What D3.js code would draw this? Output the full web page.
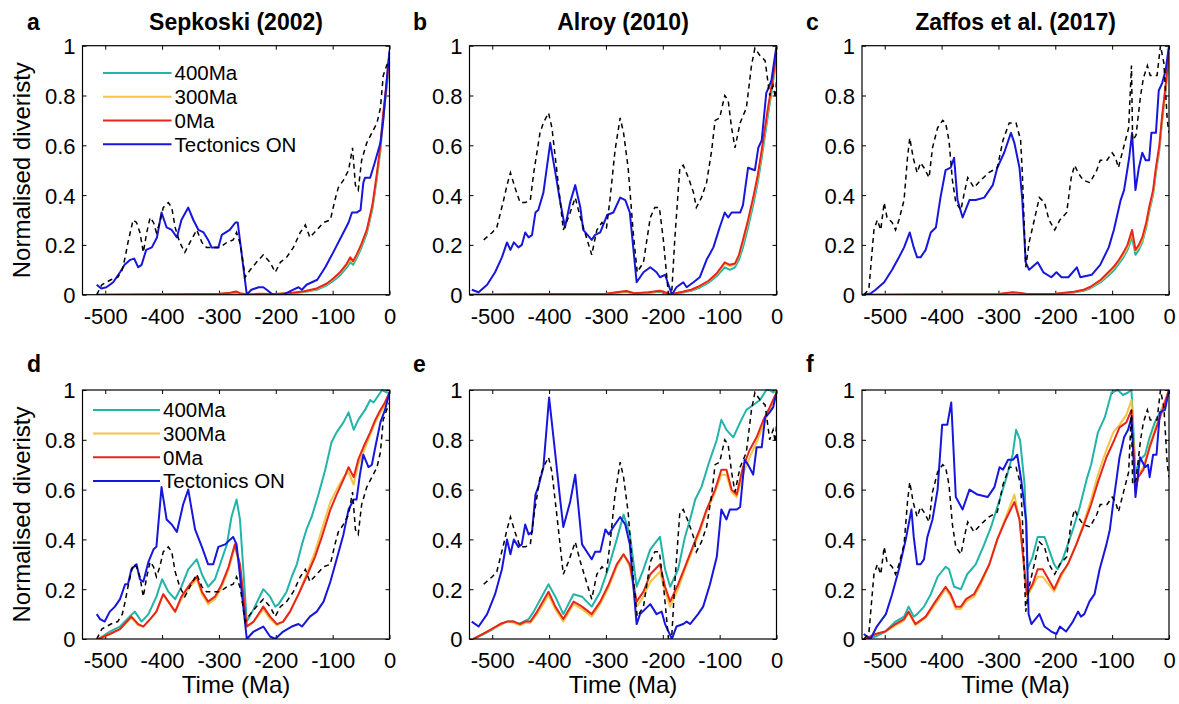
<!DOCTYPE html>
<html><head><meta charset="utf-8">
<script src="https://cdn.jsdelivr.net/npm/d3@7"></script>
<style>body{margin:0;background:#fff}svg{font-family:"Liberation Sans",Arial,Helvetica,sans-serif}</style>
</head><body><svg id="c" width="1179" height="704"></svg>
<script>
// ---------- labels ----------
const xTicks=[-500,-400,-300,-200,-100,0];
const xTickLabels=["-500","-400","-300","-200","-100","0"];
const yTicks=[0,0.2,0.4,0.6,0.8,1];
const yTickLabels=["0","0.2","0.4","0.6","0.8","1"];
const legendLabels=["400Ma","300Ma","0Ma","Tectonics ON"];
const titles=["Sepkoski (2002)","Alroy (2010)","Zaffos et al. (2017)"];
const letters=["a","b","c","d","e","f"];
const yLabel="Normalised diveristy";
const xLabel="Time (Ma)";

// ---------- observed (dashed) series: [Ma, value] ----------
const sepkoskiObs=[[-515,0],[-506,0.04],[-490,0.06],[-478,0.07],[-470,0.1],[-465,0.15],[-460,0.21],[-451,0.3],[-445,0.29],[-439,0.25],[-433,0.17],[-427,0.25],[-421,0.31],[-415,0.29],[-410,0.25],[-404,0.29],[-398,0.35],[-389,0.37],[-383,0.35],[-377,0.27],[-369,0.21],[-360,0.17],[-351,0.21],[-339,0.26],[-330,0.21],[-322,0.19],[-310,0.19],[-298,0.19],[-286,0.21],[-275,0.22],[-269,0.25],[-262,0.2],[-254,0.07],[-245,0.1],[-234,0.13],[-222,0.16],[-210,0.13],[-201,0.09],[-192,0.13],[-181,0.15],[-169,0.19],[-157,0.25],[-148,0.28],[-140,0.23],[-128,0.26],[-116,0.29],[-104,0.3],[-96,0.38],[-90,0.43],[-81,0.46],[-72,0.5],[-65,0.59],[-60,0.44],[-55,0.42],[-49,0.54],[-40,0.61],[-31,0.65],[-22,0.69],[-16,0.75],[-11,0.88],[-5,0.92],[0,0.95]];
const alroyObs=[[-515,0.22],[-500,0.25],[-492,0.27],[-480,0.38],[-474,0.44],[-468,0.49],[-460,0.43],[-451,0.37],[-442,0.37],[-433,0.38],[-427,0.49],[-416,0.65],[-410,0.69],[-401,0.73],[-395,0.67],[-386,0.49],[-375,0.26],[-366,0.31],[-354,0.39],[-345,0.31],[-333,0.22],[-325,0.16],[-316,0.26],[-307,0.29],[-299,0.27],[-293,0.38],[-284,0.58],[-275,0.71],[-269,0.65],[-261,0.51],[-252,0.25],[-245,0.09],[-234,0.13],[-222,0.31],[-214,0.35],[-206,0.35],[-199,0.22],[-190,0],[-184,0.02],[-179,0.22],[-170,0.51],[-164,0.52],[-155,0.47],[-146,0.41],[-141,0.35],[-132,0.39],[-123,0.45],[-114,0.58],[-108,0.7],[-100,0.71],[-91,0.8],[-85,0.78],[-79,0.67],[-73,0.59],[-64,0.69],[-53,0.75],[-44,0.92],[-38,0.99],[-29,0.96],[-20,0.94],[-12,0.8],[-6,0.84],[-2,0.79],[0,0.86]];
const zaffosObs=[[-537,0],[-528,0.02],[-519,0.26],[-513,0.3],[-507,0.26],[-501,0.37],[-496,0.31],[-487,0.29],[-481,0.26],[-475,0.3],[-466,0.38],[-460,0.55],[-456,0.63],[-450,0.55],[-443,0.49],[-437,0.53],[-431,0.51],[-422,0.47],[-416,0.59],[-407,0.67],[-398,0.7],[-393,0.69],[-387,0.62],[-381,0.46],[-375,0.37],[-366,0.34],[-360,0.41],[-354,0.47],[-343,0.43],[-331,0.46],[-317,0.49],[-302,0.51],[-292,0.62],[-281,0.69],[-269,0.69],[-261,0.62],[-258,0.49],[-252,0.11],[-246,0.21],[-237,0.3],[-228,0.39],[-219,0.37],[-211,0.3],[-201,0.26],[-192,0.3],[-180,0.33],[-172,0.47],[-166,0.52],[-160,0.49],[-151,0.46],[-139,0.45],[-127,0.5],[-121,0.54],[-109,0.54],[-100,0.57],[-94,0.55],[-89,0.51],[-80,0.59],[-71,0.67],[-66,0.92],[-64,0.62],[-58,0.64],[-50,0.8],[-45,0.87],[-38,0.92],[-33,0.88],[-21,0.88],[-15,1.0],[-9,0.93],[-3,0.7],[0,0.65]];

// ---------- panel a (Sepkoski, top) ----------
const a400=[[-515,0],[-400,0.001],[-300,0.002],[-280,0.005],[-270,0.009],[-263,0.004],[-250,0],[-200,0.002],[-170,0.006],[-150,0.011],[-128,0.02],[-110,0.038],[-99,0.055],[-87,0.078],[-75,0.11],[-69,0.13],[-64,0.12],[-58,0.145],[-50,0.185],[-40,0.245],[-30,0.345],[-22,0.47],[-16,0.58],[-11,0.71],[-5,0.83],[0,0.94]];
const a300=[[-515,0],[-400,0.002],[-300,0.003],[-280,0.007],[-270,0.011],[-263,0.005],[-250,0.001],[-200,0.003],[-170,0.007],[-150,0.013],[-128,0.023],[-110,0.043],[-99,0.062],[-87,0.087],[-75,0.12],[-69,0.142],[-64,0.13],[-58,0.155],[-50,0.195],[-40,0.255],[-30,0.355],[-22,0.48],[-16,0.59],[-11,0.72],[-5,0.84],[0,0.96]];
const a0=[[-515,0],[-400,0.002],[-300,0.004],[-280,0.008],[-270,0.013],[-263,0.006],[-250,0.001],[-230,0.004],[-200,0.003],[-170,0.008],[-150,0.014],[-128,0.025],[-110,0.045],[-99,0.065],[-87,0.09],[-75,0.125],[-69,0.15],[-64,0.135],[-58,0.16],[-50,0.2],[-40,0.26],[-30,0.36],[-22,0.49],[-16,0.6],[-11,0.73],[-5,0.85],[0,0.97]];
const aTec=[[-515,0.04],[-507,0.025],[-498,0.03],[-486,0.05],[-474,0.09],[-466,0.12],[-456,0.14],[-449,0.145],[-442,0.11],[-436,0.12],[-428,0.18],[-418,0.19],[-409,0.23],[-401,0.33],[-392,0.27],[-383,0.26],[-374,0.23],[-366,0.3],[-354,0.35],[-345,0.3],[-336,0.26],[-327,0.25],[-319,0.22],[-313,0.19],[-301,0.19],[-295,0.24],[-281,0.26],[-271,0.29],[-267,0.29],[-251,0],[-243,0.02],[-230,0.03],[-222,0.03],[-216,0.02],[-205,0],[-187,0],[-169,0.02],[-160,0.03],[-154,0.02],[-146,0.04],[-127,0.06],[-113,0.11],[-99,0.17],[-81,0.25],[-72,0.29],[-66,0.33],[-58,0.33],[-51,0.34],[-46,0.45],[-43,0.47],[-34,0.47],[-26,0.53],[-16,0.61],[-11,0.7],[-5,0.86],[0,0.98]];

// ---------- panel b (Alroy, top) ----------
const b400=[[-540,0],[-400,0.002],[-300,0.003],[-275,0.009],[-264,0.011],[-250,0.004],[-225,0.007],[-205,0.012],[-190,0.004],[-184,0.002],[-165,0.009],[-150,0.016],[-135,0.028],[-120,0.047],[-105,0.075],[-91,0.11],[-82,0.1],[-73,0.11],[-66,0.14],[-59,0.19],[-50,0.27],[-41,0.36],[-33,0.45],[-26,0.55],[-15,0.72],[-7,0.84],[0,0.95]];
const b300=[[-540,0],[-400,0.003],[-300,0.004],[-275,0.011],[-264,0.014],[-250,0.005],[-225,0.009],[-205,0.015],[-190,0.005],[-184,0.003],[-165,0.011],[-150,0.019],[-135,0.033],[-120,0.053],[-105,0.083],[-91,0.125],[-82,0.115],[-73,0.12],[-66,0.155],[-59,0.21],[-50,0.29],[-41,0.38],[-33,0.47],[-26,0.57],[-15,0.74],[-7,0.85],[0,0.96]];
const b0=[[-540,0],[-400,0.003],[-300,0.004],[-275,0.012],[-264,0.015],[-250,0.006],[-225,0.01],[-205,0.016],[-190,0.005],[-184,0.003],[-165,0.012],[-150,0.02],[-135,0.035],[-120,0.055],[-105,0.086],[-91,0.13],[-82,0.12],[-73,0.125],[-66,0.16],[-59,0.22],[-50,0.3],[-41,0.39],[-33,0.48],[-26,0.58],[-15,0.75],[-7,0.86],[0,0.97]];
const bTec=[[-536,0.02],[-524,0.01],[-509,0.04],[-495,0.09],[-483,0.15],[-474,0.21],[-468,0.18],[-462,0.21],[-454,0.19],[-448,0.2],[-442,0.25],[-436,0.23],[-430,0.24],[-424,0.33],[-419,0.34],[-410,0.41],[-398,0.61],[-389,0.49],[-381,0.38],[-372,0.27],[-363,0.37],[-354,0.44],[-345,0.35],[-340,0.26],[-325,0.22],[-319,0.24],[-310,0.25],[-298,0.32],[-287,0.33],[-275,0.39],[-266,0.38],[-258,0.33],[-246,0.05],[-234,0.09],[-222,0.11],[-211,0.09],[-205,0.07],[-196,0.08],[-184,0],[-176,0.03],[-164,0.05],[-158,0.03],[-146,0.05],[-135,0.07],[-123,0.14],[-111,0.19],[-100,0.27],[-91,0.33],[-85,0.31],[-79,0.33],[-64,0.33],[-59,0.36],[-50,0.51],[-38,0.5],[-32,0.59],[-26,0.62],[-18,0.81],[-9,0.86],[0,1.0]];

// ---------- panel c (Zaffos, top) ----------
const c400=[[-540,0],[-300,0.002],[-275,0.007],[-265,0.006],[-250,0.002],[-200,0.003],[-167,0.009],[-150,0.016],[-138,0.026],[-120,0.05],[-109,0.072],[-98,0.095],[-88,0.125],[-80,0.15],[-73,0.18],[-65,0.23],[-59,0.16],[-53,0.18],[-47,0.21],[-40,0.27],[-35,0.33],[-28,0.4],[-23,0.49],[-17,0.58],[-12,0.7],[-6,0.82],[0,0.95]];
const c300=[[-540,0],[-300,0.003],[-275,0.009],[-265,0.007],[-250,0.003],[-200,0.004],[-167,0.011],[-150,0.019],[-138,0.03],[-120,0.056],[-109,0.08],[-98,0.105],[-88,0.135],[-80,0.16],[-73,0.19],[-65,0.25],[-59,0.175],[-53,0.19],[-47,0.22],[-40,0.28],[-35,0.34],[-28,0.41],[-23,0.5],[-17,0.59],[-12,0.71],[-6,0.83],[0,0.96]];
const c0=[[-540,0],[-300,0.003],[-275,0.01],[-265,0.008],[-250,0.003],[-200,0.004],[-167,0.012],[-150,0.02],[-138,0.032],[-120,0.06],[-109,0.085],[-98,0.11],[-88,0.14],[-80,0.17],[-73,0.2],[-65,0.26],[-59,0.18],[-53,0.2],[-47,0.23],[-40,0.29],[-35,0.35],[-28,0.42],[-23,0.51],[-17,0.6],[-12,0.72],[-6,0.84],[0,0.97]];
const cTec=[[-537,0],[-525,0.005],[-516,0.02],[-501,0.05],[-487,0.1],[-475,0.15],[-466,0.19],[-456,0.25],[-449,0.19],[-443,0.15],[-437,0.15],[-428,0.18],[-419,0.25],[-410,0.27],[-402,0.39],[-393,0.5],[-384,0.51],[-378,0.55],[-372,0.38],[-363,0.31],[-351,0.38],[-340,0.38],[-325,0.39],[-310,0.44],[-302,0.51],[-290,0.57],[-278,0.65],[-272,0.61],[-263,0.51],[-258,0.38],[-252,0.13],[-246,0.1],[-231,0.13],[-221,0.09],[-207,0.07],[-198,0.09],[-189,0.07],[-177,0.07],[-162,0.11],[-156,0.07],[-136,0.08],[-121,0.12],[-106,0.19],[-97,0.26],[-85,0.38],[-79,0.42],[-70,0.55],[-65,0.65],[-59,0.42],[-53,0.51],[-47,0.57],[-41,0.54],[-35,0.54],[-31,0.65],[-23,0.65],[-18,0.82],[-12,0.85],[-6,0.9],[0,1.0]];

// ---------- panel d (Sepkoski, bottom) ----------
const d400=[[-512,0],[-492,0.03],[-474,0.05],[-457,0.09],[-448,0.11],[-442,0.09],[-436,0.07],[-424,0.1],[-410,0.17],[-400,0.24],[-389,0.19],[-377,0.16],[-366,0.21],[-354,0.28],[-339,0.32],[-330,0.26],[-319,0.21],[-307,0.24],[-298,0.3],[-286,0.38],[-278,0.49],[-269,0.56],[-263,0.48],[-251,0.07],[-239,0.12],[-222,0.2],[-210,0.17],[-201,0.13],[-195,0.14],[-181,0.19],[-172,0.25],[-163,0.3],[-154,0.38],[-146,0.44],[-137,0.49],[-125,0.58],[-113,0.68],[-102,0.79],[-93,0.83],[-81,0.87],[-72,0.91],[-63,0.84],[-55,0.88],[-43,0.92],[-34,0.96],[-28,0.95],[-19,0.98],[-13,1.0],[-5,0.99],[0,0.99]];
const d300=[[-512,0],[-492,0.02],[-474,0.04],[-454,0.085],[-442,0.055],[-433,0.05],[-421,0.08],[-410,0.11],[-398,0.18],[-389,0.15],[-377,0.11],[-366,0.16],[-351,0.21],[-339,0.24],[-330,0.18],[-319,0.14],[-307,0.16],[-295,0.21],[-283,0.28],[-272,0.37],[-263,0.29],[-251,0.05],[-239,0.07],[-222,0.12],[-210,0.08],[-198,0.055],[-187,0.07],[-175,0.11],[-160,0.18],[-146,0.26],[-131,0.35],[-119,0.44],[-104,0.55],[-93,0.6],[-81,0.65],[-72,0.67],[-63,0.62],[-55,0.7],[-46,0.75],[-34,0.82],[-25,0.87],[-16,0.91],[-8,0.94],[0,0.98]];
const d0=[[-512,0],[-492,0.02],[-474,0.04],[-454,0.09],[-442,0.06],[-433,0.05],[-421,0.08],[-410,0.11],[-398,0.18],[-389,0.15],[-377,0.11],[-366,0.17],[-351,0.22],[-339,0.25],[-330,0.19],[-319,0.15],[-307,0.17],[-295,0.22],[-283,0.29],[-272,0.38],[-263,0.3],[-251,0.05],[-239,0.07],[-222,0.13],[-210,0.09],[-198,0.06],[-187,0.07],[-175,0.11],[-160,0.18],[-146,0.25],[-131,0.33],[-119,0.41],[-104,0.52],[-93,0.58],[-81,0.64],[-72,0.69],[-63,0.65],[-55,0.72],[-46,0.77],[-34,0.83],[-25,0.88],[-16,0.92],[-8,0.95],[0,0.99]];
const dTec=[[-515,0.1],[-509,0.08],[-501,0.07],[-492,0.11],[-483,0.13],[-474,0.16],[-465,0.22],[-460,0.22],[-454,0.28],[-445,0.3],[-439,0.24],[-433,0.23],[-424,0.31],[-415,0.36],[-410,0.37],[-401,0.61],[-392,0.48],[-383,0.46],[-374,0.43],[-363,0.54],[-354,0.6],[-342,0.44],[-330,0.37],[-319,0.3],[-310,0.3],[-301,0.37],[-289,0.38],[-280,0.4],[-275,0.41],[-269,0.38],[-251,0],[-239,0.03],[-222,0.05],[-210,0.01],[-201,0],[-187,0.03],[-172,0.05],[-160,0.06],[-154,0.05],[-140,0.09],[-128,0.11],[-116,0.15],[-104,0.23],[-93,0.32],[-81,0.42],[-72,0.52],[-63,0.56],[-58,0.56],[-52,0.66],[-46,0.74],[-37,0.69],[-31,0.7],[-25,0.77],[-16,0.87],[-8,0.92],[0,0.99]];

// ---------- panel e (Alroy, bottom) ----------
const e400=[[-533,0],[-515,0.02],[-498,0.04],[-486,0.06],[-474,0.07],[-462,0.07],[-454,0.06],[-445,0.07],[-436,0.08],[-427,0.11],[-413,0.17],[-401,0.22],[-389,0.17],[-375,0.1],[-357,0.18],[-342,0.17],[-325,0.13],[-310,0.19],[-295,0.29],[-281,0.4],[-269,0.5],[-258,0.42],[-246,0.21],[-234,0.28],[-222,0.36],[-205,0.41],[-196,0.28],[-187,0.21],[-173,0.28],[-161,0.41],[-152,0.48],[-143,0.56],[-132,0.61],[-120,0.7],[-105,0.8],[-97,0.88],[-88,0.84],[-76,0.81],[-64,0.87],[-53,0.92],[-41,0.94],[-29,0.96],[-18,1.0],[-12,1.0],[-6,0.99],[0,1.0]];
const e300=[[-533,0],[-509,0.03],[-486,0.055],[-474,0.07],[-462,0.065],[-451,0.055],[-442,0.065],[-433,0.065],[-421,0.1],[-401,0.175],[-389,0.12],[-375,0.07],[-357,0.14],[-342,0.12],[-325,0.09],[-310,0.14],[-295,0.21],[-281,0.29],[-269,0.34],[-258,0.29],[-246,0.13],[-234,0.17],[-222,0.23],[-205,0.27],[-196,0.19],[-187,0.13],[-173,0.2],[-161,0.28],[-149,0.35],[-135,0.43],[-123,0.51],[-108,0.59],[-97,0.66],[-88,0.66],[-79,0.59],[-70,0.57],[-59,0.66],[-47,0.73],[-35,0.79],[-23,0.86],[-12,0.92],[0,0.98]];
const e0=[[-533,0],[-509,0.03],[-486,0.06],[-474,0.07],[-462,0.07],[-451,0.06],[-442,0.07],[-433,0.07],[-421,0.11],[-401,0.19],[-389,0.13],[-375,0.08],[-357,0.15],[-342,0.13],[-325,0.1],[-310,0.15],[-295,0.22],[-281,0.3],[-269,0.34],[-258,0.3],[-246,0.15],[-234,0.19],[-222,0.26],[-205,0.3],[-196,0.21],[-187,0.15],[-173,0.22],[-161,0.29],[-149,0.36],[-135,0.44],[-123,0.52],[-108,0.6],[-97,0.68],[-88,0.68],[-79,0.6],[-70,0.58],[-59,0.69],[-47,0.76],[-35,0.81],[-23,0.88],[-12,0.93],[0,0.99]];
const eTec=[[-536,0.07],[-524,0.05],[-509,0.1],[-495,0.18],[-483,0.28],[-474,0.4],[-468,0.34],[-462,0.4],[-454,0.37],[-448,0.38],[-442,0.46],[-436,0.42],[-430,0.43],[-424,0.58],[-419,0.61],[-410,0.69],[-400,0.97],[-389,0.74],[-381,0.57],[-375,0.45],[-363,0.55],[-354,0.66],[-342,0.38],[-325,0.32],[-319,0.35],[-310,0.35],[-301,0.44],[-295,0.42],[-287,0.45],[-275,0.49],[-266,0.46],[-258,0.38],[-246,0.06],[-240,0.1],[-222,0.14],[-211,0.1],[-202,0.11],[-196,0.06],[-184,0],[-176,0.05],[-164,0.06],[-158,0.07],[-152,0.06],[-138,0.1],[-129,0.13],[-117,0.22],[-105,0.33],[-97,0.52],[-88,0.48],[-82,0.52],[-70,0.52],[-64,0.53],[-56,0.72],[-50,0.7],[-41,0.66],[-35,0.77],[-26,0.77],[-20,0.89],[-12,0.91],[-6,0.93],[0,0.99]];

// ---------- panel f (Zaffos, bottom) ----------
const f400=[[-534,0],[-516,0.01],[-499,0.03],[-481,0.07],[-466,0.09],[-458,0.13],[-449,0.09],[-443,0.1],[-431,0.13],[-419,0.18],[-407,0.25],[-393,0.29],[-387,0.28],[-378,0.21],[-366,0.2],[-355,0.26],[-340,0.3],[-325,0.38],[-313,0.45],[-302,0.53],[-287,0.64],[-275,0.74],[-269,0.84],[-262,0.8],[-254,0.62],[-249,0.28],[-240,0.33],[-231,0.41],[-219,0.41],[-202,0.3],[-196,0.28],[-187,0.32],[-178,0.38],[-169,0.44],[-157,0.53],[-145,0.64],[-137,0.7],[-125,0.83],[-113,0.89],[-101,0.99],[-90,1.0],[-81,0.98],[-72,0.99],[-66,1.0],[-59,0.67],[-51,0.72],[-42,0.74],[-34,0.81],[-25,0.87],[-16,0.91],[-7,0.95],[0,1.0]];
const f300=[[-534,0],[-516,0.02],[-499,0.03],[-481,0.055],[-466,0.075],[-458,0.105],[-446,0.055],[-440,0.065],[-428,0.085],[-411,0.14],[-393,0.2],[-384,0.17],[-375,0.12],[-366,0.12],[-357,0.15],[-343,0.17],[-331,0.22],[-316,0.3],[-302,0.4],[-287,0.49],[-272,0.58],[-263,0.48],[-250,0.17],[-240,0.21],[-231,0.25],[-222,0.25],[-202,0.19],[-190,0.25],[-178,0.3],[-163,0.38],[-151,0.46],[-137,0.56],[-125,0.66],[-110,0.76],[-98,0.83],[-87,0.86],[-75,0.9],[-66,0.96],[-59,0.62],[-54,0.66],[-45,0.69],[-34,0.78],[-22,0.86],[-10,0.94],[0,1.0]];
const f0=[[-534,0],[-516,0.02],[-499,0.03],[-481,0.06],[-466,0.08],[-458,0.11],[-446,0.06],[-440,0.07],[-428,0.09],[-411,0.15],[-393,0.21],[-384,0.18],[-375,0.13],[-366,0.13],[-357,0.16],[-343,0.18],[-331,0.23],[-316,0.3],[-302,0.4],[-287,0.48],[-272,0.55],[-263,0.48],[-250,0.18],[-240,0.22],[-231,0.28],[-222,0.28],[-202,0.2],[-190,0.26],[-178,0.3],[-163,0.38],[-151,0.45],[-137,0.54],[-125,0.63],[-110,0.73],[-98,0.79],[-87,0.85],[-75,0.87],[-66,0.92],[-59,0.6],[-54,0.65],[-45,0.68],[-34,0.77],[-22,0.85],[-10,0.93],[0,1.0]];
const fTec=[[-537,0.02],[-525,0],[-514,0.05],[-498,0.1],[-487,0.18],[-475,0.28],[-463,0.4],[-453,0.52],[-449,0.41],[-443,0.3],[-437,0.3],[-431,0.32],[-425,0.41],[-416,0.48],[-407,0.6],[-399,0.86],[-390,0.86],[-383,0.95],[-375,0.57],[-363,0.52],[-351,0.6],[-337,0.58],[-319,0.57],[-307,0.61],[-298,0.69],[-292,0.68],[-283,0.72],[-274,0.72],[-267,0.74],[-260,0.64],[-251,0.47],[-247,0.1],[-242,0.06],[-228,0.1],[-219,0.05],[-207,0.03],[-198,0.02],[-192,0.05],[-181,0.03],[-169,0.07],[-160,0.11],[-155,0.09],[-149,0.1],[-140,0.15],[-131,0.18],[-122,0.28],[-110,0.38],[-104,0.44],[-99,0.53],[-87,0.73],[-79,0.81],[-72,0.84],[-66,0.89],[-59,0.57],[-51,0.73],[-42,0.69],[-37,0.7],[-34,0.65],[-28,0.74],[-22,0.74],[-16,0.91],[-7,0.92],[0,1.0]];

// ---------- layout / style ----------
const colLeft=[82.5,469.5,862], rowTop=[45.7,390], W=307, H=249;
const colors=["#22b3a9","#f3c446","#e8241c","#1616dc"];
const panels=[
 {col:0,row:0,series:[a400,a300,a0,aTec],obs:sepkoskiObs,legend:{x0:20.5,x1:89,y0:27.4}},
 {col:1,row:0,series:[b400,b300,b0,bTec],obs:alroyObs},
 {col:2,row:0,series:[c400,c300,c0,cTec],obs:zaffosObs},
 {col:0,row:1,series:[d400,d300,d0,dTec],obs:sepkoskiObs,legend:{x0:10.5,x1:77.5,y0:19.9}},
 {col:1,row:1,series:[e400,e300,e0,eTec],obs:alroyObs},
 {col:2,row:1,series:[f400,f300,f0,fTec],obs:zaffosObs}
];
const letterX=[27,413,806];

const svg=d3.select("#c");
const x=d3.scaleLinear().domain([-540,0]).range([0,W]);
const y=d3.scaleLinear().domain([0,1]).range([H,0]);
svg.append("defs").append("clipPath").attr("id","clip")
  .append("rect").attr("x",0).attr("y",-1.5).attr("width",W).attr("height",H+1.5);
const line=d3.line().x(d=>x(d[0])).y(d=>y(d[1]));

panels.forEach((p,pi)=>{
  const g=svg.append("g").attr("transform",`translate(${colLeft[p.col]},${rowTop[p.row]})`);
  // axes
  const styleAxis=sel=>{sel.attr("font-size",22).attr("font-family",null);sel.select(".domain").remove();sel.selectAll("line").attr("stroke","#000");sel.selectAll("text").attr("fill","#000");};
  g.append("g").attr("transform",`translate(0,${H})`)
    .call(d3.axisBottom(x).tickValues(xTicks).tickFormat((d,i)=>xTickLabels[i]).tickSize(-4).tickPadding(8))
    .call(styleAxis).call(s=>s.selectAll("text").attr("y",29).attr("dy",null));
  g.append("g").call(d3.axisTop(x).tickValues(xTicks).tickFormat("").tickSize(-4)).call(styleAxis);
  g.append("g").call(d3.axisLeft(y).tickValues(yTicks).tickFormat((d,i)=>yTickLabels[i]).tickSize(-4).tickPadding(7))
    .call(styleAxis).call(s=>s.selectAll("text").attr("x",-7).attr("dy","0.36em"));
  g.append("g").attr("transform",`translate(${W},0)`).call(d3.axisRight(y).tickValues(yTicks).tickFormat("").tickSize(-4)).call(styleAxis);
  // data
  const pg=g.append("g").attr("clip-path","url(#clip)");
  p.series.forEach((s,i)=>{
    pg.append("path").datum(s).attr("d",line).attr("fill","none")
      .attr("stroke",colors[i]).attr("stroke-width",2).attr("stroke-linejoin","round");
  });
  pg.append("path").datum(p.obs).attr("d",line).attr("fill","none")
    .attr("stroke","#000").attr("stroke-width",1.5).attr("stroke-dasharray","5,4");
  // box
  g.append("rect").attr("width",W).attr("height",H).attr("fill","none").attr("stroke","#000").attr("stroke-width",1.2);
  // legend
  if(p.legend){
    const L=p.legend;
    legendLabels.forEach((lab,i)=>{
      const yy=L.y0+i*23.7;
      g.append("line").attr("x1",L.x0).attr("x2",L.x1).attr("y1",yy).attr("y2",yy).attr("stroke",colors[i]).attr("stroke-width",2);
      g.append("text").attr("x",L.x1+3).attr("y",yy).attr("dy","0.36em").attr("font-size",20.5).text(lab);
    });
  }
  // panel letter
  svg.append("text").attr("x",letterX[p.col]).attr("y",p.row===0?30:372)
    .attr("font-size",23).attr("font-weight","bold").text(letters[pi]);
  if(p.row===0){
    svg.append("text").attr("x",colLeft[p.col]+W/2).attr("y",30).attr("text-anchor","middle")
      .attr("font-size",23).attr("font-weight","bold").text(titles[p.col]);
  } else {
    svg.append("text").attr("x",colLeft[p.col]+W/2).attr("y",693).attr("text-anchor","middle")
      .attr("font-size",24).text(xLabel);
  }
  if(p.col===0){
    svg.append("text").attr("transform",`translate(30,${rowTop[p.row]+H/2}) rotate(-90)`)
      .attr("text-anchor","middle").attr("font-size",24).text(yLabel);
  }
});
</script></body></html>
